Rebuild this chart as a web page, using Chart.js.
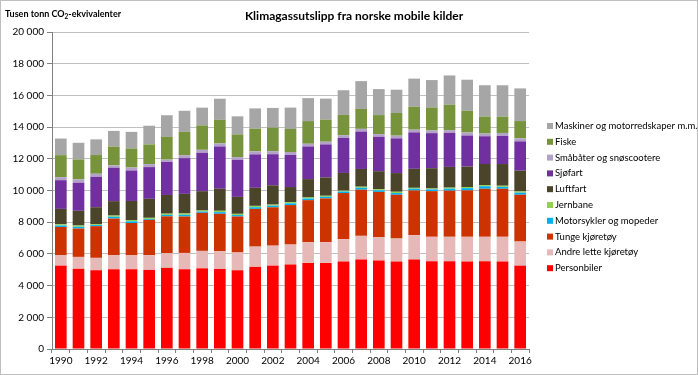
<!DOCTYPE html>
<html>
<head>
<meta charset="utf-8">
<script src="https://cdn.jsdelivr.net/npm/chart.js@4"></script>
<style>
  html, body { margin: 0; padding: 0; background: #fff; }
  canvas { display: block; }
</style>
</head>
<body>
<canvas id="utslippChart" width="698" height="375"></canvas>
<script>
// år og utslipp (tusen tonn CO2-ekv.), lest av figuren
var years = ['1990', '1991', '1992', '1993', '1994', '1995', '1996', '1997', '1998', '1999', '2000', '2001', '2002',
    '2003', '2004', '2005', '2006', '2007', '2008', '2009', '2010', '2011', '2012', '2013', '2014', '2015', '2016'];

var personbiler = [5260, 5070, 4970, 5030, 5030, 4990, 5120, 5030, 5090, 5050, 4970, 5180, 5260, 5330, 5430, 5430, 5520, 5640, 5580, 5520, 5640, 5540, 5540, 5520, 5540, 5520, 5260];
var andreLette = [650, 740, 780, 880, 880, 930, 930, 1030, 1100, 1120, 1120, 1280, 1260, 1260, 1310, 1310, 1410, 1500, 1470, 1450, 1540, 1540, 1540, 1560, 1540, 1560, 1520];
var tunge = [1790, 1790, 2000, 2320, 2040, 2230, 2320, 2300, 2400, 2360, 2270, 2380, 2420, 2490, 2650, 2760, 2910, 2910, 2860, 2760, 2820, 2880, 2910, 2930, 3030, 3030, 2950];
var motorsykler = [90, 110, 70, 110, 105, 60, 90, 105, 80, 105, 90, 105, 100, 110, 100, 100, 90, 120, 100, 110, 110, 110, 120, 140, 160, 120, 130];
var jernbane = [80, 80, 56, 79, 85, 66, 78, 84, 68, 85, 78, 85, 69, 79, 69, 68, 57, 69, 68, 80, 58, 58, 69, 70, 72, 70, 81];
var luftfart = [970, 930, 1070, 910, 1200, 1200, 1180, 1240, 1220, 1390, 1070, 1140, 1220, 950, 1160, 1160, 1120, 1120, 1140, 1180, 1200, 1280, 1310, 1290, 1330, 1370, 1310];
var sjofart = [1810, 1770, 1920, 2110, 1920, 2000, 2080, 2250, 2420, 2670, 2340, 2110, 1960, 2020, 2060, 2080, 2210, 2360, 2170, 2190, 2300, 2210, 2150, 1960, 1750, 1770, 1850];
var smabater = [190, 210, 190, 150, 190, 190, 150, 190, 190, 190, 170, 190, 190, 190, 170, 170, 170, 170, 170, 170, 170, 170, 170, 190, 170, 190, 190];
var fiske = [1390, 1260, 1180, 1180, 1200, 1240, 1430, 1470, 1540, 1490, 1430, 1430, 1490, 1450, 1430, 1390, 1280, 1260, 1200, 1430, 1450, 1450, 1600, 1370, 1070, 1030, 1090];
var maskiner = [1050, 1050, 990, 990, 1050, 1180, 1370, 1330, 1120, 1330, 1140, 1280, 1240, 1350, 1450, 1330, 1560, 1750, 1640, 1470, 1770, 1730, 1850, 1960, 1980, 1980, 2060];

var yTicks = [0, 2000, 4000, 6000, 8000, 10000, 12000, 14000, 16000, 18000, 20000];

var FONT = 'Lato, "Open Sans", sans-serif';

function fmt(v) {
    return String(v).replace(/\B(?=(\d{3})+(?!\d))/g, ' ');
}

function serie(label, data, color) {
    return { label: label, data: data, backgroundColor: color, borderWidth: 0 };
}

// tittel, aksetekst, forklaring og ramme
var extras = {
    id: 'extras',
    afterDraw: function (chart) {
        var ctx = chart.ctx;
        ctx.save();
        ctx.fillStyle = '#000';
        ctx.textBaseline = 'middle';

        ctx.font = 'bold 12px ' + FONT;
        ctx.textAlign = 'center';
        ctx.fillText('Klimagassutslipp fra norske mobile kilder', 354, 16);

        ctx.textAlign = 'left';
        ctx.font = 'bold 9px ' + FONT;
        var x = 5;
        ctx.fillText('Tusen tonn CO', x, 14);
        x += ctx.measureText('Tusen tonn CO').width;
        ctx.font = 'bold 6.5px ' + FONT;
        ctx.fillText('2', x, 17);
        x += ctx.measureText('2').width;
        ctx.font = 'bold 9px ' + FONT;
        ctx.fillText('-ekvivalenter', x, 14);

        ctx.font = '9.5px ' + FONT;
        var ds = chart.data.datasets;
        for (var i = 0; i < ds.length; i++) {
            var d = ds[ds.length - 1 - i];
            var y = 126 + i * 15.8;
            ctx.fillStyle = d.backgroundColor;
            ctx.fillRect(547, y - 3, 6, 6);
            ctx.fillStyle = '#000';
            ctx.fillText(d.label, 555, y);
        }

        ctx.strokeStyle = '#BFBFBF';
        ctx.lineWidth = 1;
        ctx.strokeRect(0.5, 0.5, 697, 374);
        ctx.restore();
    }
};

new Chart(document.getElementById('utslippChart').getContext('2d'), {
    type: 'bar',
    data: {
        labels: years,
        datasets: [
            serie('Personbiler', personbiler, '#FF0000'),
            serie('Andre lette kjøretøy', andreLette, '#E6B9B8'),
            serie('Tunge kjøretøy', tunge, '#CC3300'),
            serie('Motorsykler og mopeder', motorsykler, '#00B0F0'),
            serie('Jernbane', jernbane, '#92D050'),
            serie('Luftfart', luftfart, '#4A452A'),
            serie('Sjøfart', sjofart, '#7030A0'),
            serie('Småbåter og snøscootere', smabater, '#B3A2C7'),
            serie('Fiske', fiske, '#77933C'),
            serie('Maskiner og motorredskaper m.m.', maskiner, '#A6A6A6')
        ]
    },
    options: {
        responsive: false,
        animation: false,
        datasets: { bar: { categoryPercentage: 1, barPercentage: 0.66 } },
        layout: { padding: { left: 0, right: 169, top: 32, bottom: 0 } },
        plugins: {
            legend: { display: false },
            tooltip: { enabled: false }
        },
        scales: {
            x: {
                stacked: true,
                afterFit: function (scale) { scale.height = 26; },
                grid: { drawOnChartArea: false, tickLength: 4, color: '#808080' },
                border: { color: '#808080' },
                ticks: {
                    autoSkip: false,
                    maxRotation: 0,
                    padding: 2,
                    color: '#000',
                    font: { family: FONT, size: 10 },
                    callback: function (v, i) { return i % 2 === 0 ? years[i] : ''; }
                }
            },
            y: {
                stacked: true,
                min: 0,
                max: 20000,
                afterFit: function (scale) { scale.width = 52; },
                afterBuildTicks: function (scale) {
                    scale.ticks = yTicks.map(function (v) { return { value: v }; });
                },
                grid: { color: '#C0C0C0', tickColor: '#808080', tickLength: 5 },
                border: { color: '#808080' },
                ticks: {
                    padding: 3,
                    color: '#000',
                    font: { family: FONT, size: 10 },
                    callback: function (v) { return fmt(v); }
                }
            }
        }
    },
    plugins: [extras]
});
</script>
</body>
</html>
